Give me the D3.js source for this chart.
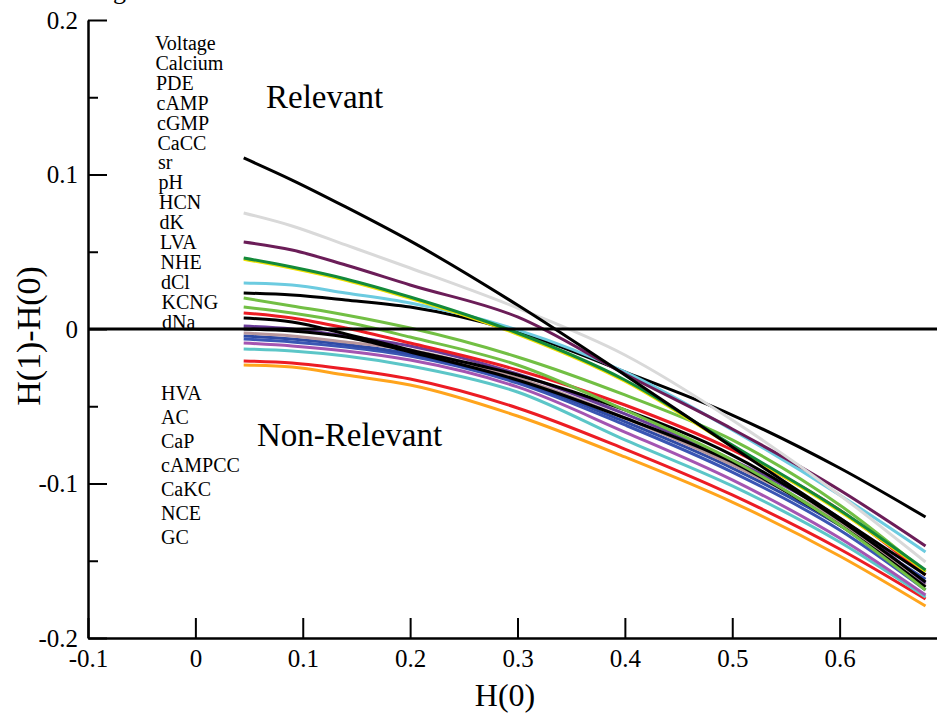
<!DOCTYPE html>
<html>
<head>
<meta charset="utf-8">
<script src="https://cdn.jsdelivr.net/npm/d3@7"></script>
<style>
  body { margin: 0; background: #fff; }
  svg { display: block; font-family: "Liberation Serif", "Times New Roman", serif; }
  svg text { font-family: "Liberation Serif", "Times New Roman", serif; }
</style>
</head>
<body>
<div id="chart"></div>
<script>
(function(){
    /* global d3 */
    // H(0) sample positions shared by every curve
    var h0 = [0.045, 0.09, 0.14, 0.2, 0.3, 0.4, 0.5, 0.6, 0.68];

    // H(1)-H(0), one array per curve
    var blackTop   = [0.1107, 0.0964, 0.0790, 0.0570, 0.0155, -0.0298, -0.0764, -0.1223, -0.1592];
    var grey       = [0.0751, 0.0667, 0.0544, 0.0395, 0.0136, -0.0168, -0.0589, -0.1074, -0.1508];
    var maroon     = [0.0563, 0.0511, 0.0414, 0.0285, 0.0078, -0.0291, -0.0647, -0.1042, -0.1404];
    var yellow     = [0.0452, 0.0393, 0.0316, 0.0199, -0.0034, -0.0338, -0.0759, -0.1180, -0.1568];
    var green      = [0.0460, 0.0401, 0.0324, 0.0207, -0.0026, -0.0330, -0.0751, -0.1172, -0.1560];
    var cyan       = [0.0298, 0.0285, 0.0233, 0.0168, -0.0006, -0.0278, -0.0654, -0.1074, -0.1443];
    var blackFlat  = [0.0233, 0.0220, 0.0188, 0.0142, -0.0019, -0.0278, -0.0557, -0.0900, -0.1217];
    var lime1      = [0.0201, 0.0149, 0.0091, 0.0006, -0.0181, -0.0427, -0.0718, -0.1139, -0.1573];
    var lime2      = [0.0142, 0.0104, 0.0045, -0.0052, -0.0233, -0.0524, -0.0848, -0.1269, -0.1689];
    var red1       = [0.0104, 0.0071, 0.0006, -0.0091, -0.0265, -0.0492, -0.0783, -0.1172, -0.1592];
    var black3     = [0.0071, 0.0045, -0.0032, -0.0136, -0.0298, -0.0524, -0.0816, -0.1236, -0.1638];
    var black4     = [0.0000, -0.0013, -0.0052, -0.0149, -0.0330, -0.0576, -0.0861, -0.1269, -0.1670];
    var purple     = [0.0019, 0.0000, -0.0045, -0.0110, -0.0291, -0.0550, -0.0848, -0.1223, -0.1644];
    var rose       = [-0.0026, -0.0045, -0.0084, -0.0136, -0.0317, -0.0576, -0.0880, -0.1249, -0.1657];
    var blue1      = [-0.0045, -0.0065, -0.0100, -0.0160, -0.0335, -0.0600, -0.0900, -0.1270, -0.1620];
    var blue2      = [-0.0065, -0.0084, -0.0117, -0.0175, -0.0350, -0.0621, -0.0926, -0.1301, -0.1689];
    var magenta    = [-0.0091, -0.0110, -0.0142, -0.0201, -0.0375, -0.0667, -0.0977, -0.1353, -0.1722];
    var teal       = [-0.0129, -0.0142, -0.0175, -0.0239, -0.0408, -0.0718, -0.1016, -0.1379, -0.1735];
    var red2       = [-0.0207, -0.0220, -0.0259, -0.0324, -0.0511, -0.0777, -0.1074, -0.1424, -0.1748];
    var orange     = [-0.0233, -0.0246, -0.0298, -0.0362, -0.0563, -0.0828, -0.1120, -0.1469, -0.1793];

    var upperNames = ['Voltage','Calcium','PDE','cAMP','cGMP','CaCC','sr','pH','HCN','dK','LVA','NHE','dCl','KCNG','dNa'];
    var lowerNames = ['HVA','AC','CaP','cAMPCC','CaKC','NCE','GC'];

    var xTicks = [-0.1, 0, 0.1, 0.2, 0.3, 0.4, 0.5, 0.6];
    var yTicks = [-0.2, -0.1, 0, 0.1, 0.2];
    var yMinor = [-0.15, -0.05, 0.05, 0.15];

    var curves = [
        {v: orange, c: '#ffa41c'},
        {v: red2, c: '#ec1c24'},
        {v: teal, c: '#5cc6c8'},
        {v: magenta, c: '#a455b2'},
        {v: blue2, c: '#3a56b4'},
        {v: blue1, c: '#2f4ba6'},
        {v: rose, c: '#b8979c'},
        {v: purple, c: '#6a3d9a'},
        {v: black4, c: '#000000'},
        {v: black3, c: '#000000'},
        {v: red1, c: '#ec1c24'},
        {v: lime2, c: '#72bf44'},
        {v: lime1, c: '#72bf44'},
        {v: blackFlat, c: '#000000'},
        {v: cyan, c: '#6ccbe0'},
        {v: yellow, c: '#f0e000'},
        {v: green, c: '#138a3a'},
        {v: maroon, c: '#6b1d58'},
        {v: grey, c: '#d9d9d9'},
        {v: blackTop, c: '#000000'}
    ];

    var W = 937, H = 715;
    var x = d3.scaleLinear().domain([-0.1, 0.7]).range([88, 947]);
    var y = d3.scaleLinear().domain([-0.2, 0.2]).range([638, 20]);
    var fmt = d => String(d);   // plain hyphen minus, like the original

    var svg = d3.select('#chart').append('svg')
        .attr('width', W).attr('height', H);

    // clipped title descender at the very top
    svg.append('text').attr('x', 113).attr('y', -1)
        .attr('font-size', 26).text('g');

    var line = d3.line()
        .x((d, i) => x(h0[i]))
        .y(d => y(d))
        .curve(d3.curveMonotoneX);

    svg.append('g').selectAll('path')
        .data(curves).enter()
        .append('path')
        .attr('d', d => line(d.v))
        .attr('fill', 'none')
        .attr('stroke', d => d.c)
        .attr('stroke-width', 3)
        .attr('stroke-linejoin', 'round');

    // zero line
    svg.append('line')
        .attr('x1', x(-0.1)).attr('x2', W)
        .attr('y1', y(0)).attr('y2', y(0))
        .attr('stroke', '#000').attr('stroke-width', 3);

    // axes
    svg.append('g').attr('transform', 'translate(' + x(-0.1) + ',0)')
        .call(d3.axisLeft(y).tickValues(yTicks).tickSize(-19).tickSizeOuter(0)
            .tickPadding(10).tickFormat(fmt));
    svg.append('g').attr('transform', 'translate(' + x(-0.1) + ',0)')
        .call(d3.axisLeft(y).tickValues(yMinor).tickSize(-10).tickSizeOuter(0).tickFormat(''))
        .select('.domain').remove();

    svg.append('g').attr('transform', 'translate(0,' + y(-0.2) + ')')
        .call(d3.axisBottom(x).tickValues(xTicks).tickSize(-20).tickSizeOuter(0)
            .tickPadding(11).tickFormat(fmt));

    svg.selectAll('.domain').attr('stroke-width', 2.5);
    svg.selectAll('.tick line').attr('stroke-width', 2);
    svg.selectAll('.tick text').attr('font-size', 25)
        .style('font-family', '"Liberation Serif", serif').attr('fill', '#000');

    // axis titles
    svg.append('text').attr('x', 505).attr('y', 706)
        .attr('text-anchor', 'middle').attr('font-size', 32).text('H(0)');
    svg.append('text').attr('transform', 'translate(40,336) rotate(-90)')
        .attr('text-anchor', 'middle').attr('font-size', 34).text('H(1)-H(0)');

    // region labels
    svg.append('text').attr('x', 266).attr('y', 108).attr('font-size', 33).text('Relevant');
    svg.append('text').attr('x', 257).attr('y', 446).attr('font-size', 33).text('Non-Relevant');

    svg.append('g').selectAll('text')
        .data(upperNames).enter()
        .append('text')
        .attr('x', (d, i) => 155 + i * 0.5)
        .attr('y', (d, i) => 50 + i * 19.9)
        .attr('font-size', 20)
        .text(d => d);

    svg.append('g').selectAll('text')
        .data(lowerNames).enter()
        .append('text')
        .attr('x', 161)
        .attr('y', (d, i) => 400 + i * 24)
        .attr('font-size', 20)
        .text(d => d);
})();
</script>
</body>
</html>
